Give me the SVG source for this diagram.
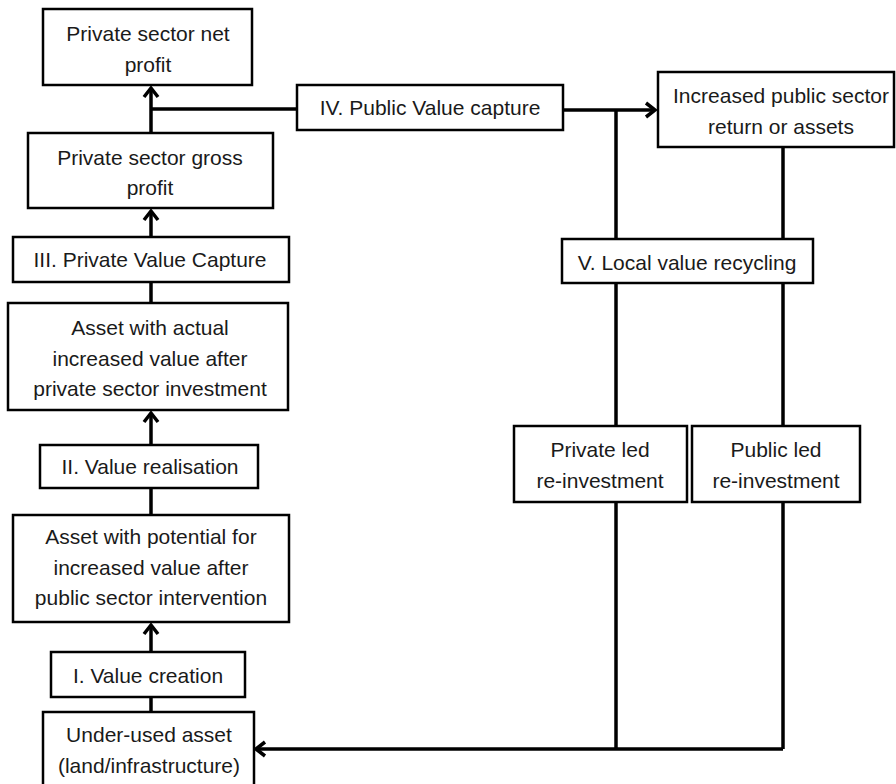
<svg xmlns="http://www.w3.org/2000/svg" width="896" height="784" viewBox="0 0 896 784">
<style>
.box{fill:#fff;stroke:#000;stroke-width:2.5}
.ln{fill:none;stroke:#000;stroke-width:3.5}
text{font-family:"Liberation Sans",Arial,sans-serif;font-size:21px;fill:#1a1a1a;text-anchor:middle}
</style>
<defs>
<marker id="arr" markerUnits="userSpaceOnUse" markerWidth="20" markerHeight="20" viewBox="-12 -10 14 20" refX="0" refY="0" orient="auto">
<path d="M-9,-7 L0,0 L-9,7" fill="none" stroke="#000" stroke-width="3.5"/>
</marker>
</defs>
<rect width="896" height="784" fill="#fff"/>
<g id="connectors">
<line class="ln" x1="151" y1="133" x2="151" y2="88" marker-end="url(#arr)"/>
<line class="ln" x1="151" y1="109" x2="297" y2="109"/>
<line class="ln" x1="563" y1="110" x2="655" y2="110" marker-end="url(#arr)"/>
<line class="ln" x1="151" y1="237" x2="151" y2="211" marker-end="url(#arr)"/>
<line class="ln" x1="151" y1="282" x2="151" y2="303"/>
<line class="ln" x1="151" y1="445" x2="151" y2="413" marker-end="url(#arr)"/>
<line class="ln" x1="151" y1="488" x2="151" y2="515"/>
<line class="ln" x1="151" y1="652" x2="151" y2="625" marker-end="url(#arr)"/>
<line class="ln" x1="151" y1="697" x2="151" y2="712"/>
<line class="ln" x1="616" y1="110" x2="616" y2="749"/>
<line class="ln" x1="783" y1="147" x2="783" y2="749"/>
<path class="ln" d="M783,749 L256,749" marker-end="url(#arr)"/>
</g>
<g id="net-profit">
<rect class="box" x="43" y="9" width="209" height="76"/>
<text x="148" y="41">Private sector net</text>
<text x="148" y="72">profit</text>
</g>
<g id="gross-profit">
<rect class="box" x="28" y="133" width="245" height="75"/>
<text x="150" y="165">Private sector gross</text>
<text x="150" y="195">profit</text>
</g>
<g id="private-value-capture">
<rect class="box" x="13" y="237" width="276" height="45"/>
<text x="150" y="267">III. Private Value Capture</text>
</g>
<g id="asset-actual">
<rect class="box" x="8" y="303" width="280" height="107"/>
<text x="150" y="335">Asset with actual</text>
<text x="150" y="366">increased value after</text>
<text x="150" y="396">private sector investment</text>
</g>
<g id="value-realisation">
<rect class="box" x="40" y="445" width="218" height="43"/>
<text x="150" y="474">II. Value realisation</text>
</g>
<g id="asset-potential">
<rect class="box" x="13" y="515" width="276" height="107"/>
<text x="151" y="544">Asset with potential for</text>
<text x="151" y="575">increased value after</text>
<text x="151" y="605">public sector intervention</text>
</g>
<g id="value-creation">
<rect class="box" x="51" y="652" width="194" height="45"/>
<text x="148" y="683">I. Value creation</text>
</g>
<g id="under-used-asset">
<rect class="box" x="43" y="712" width="211" height="76"/>
<text x="149" y="742">Under-used asset</text>
<text x="149" y="773">(land/infrastructure)</text>
</g>
<g id="public-value-capture">
<rect class="box" x="297" y="85" width="266" height="45"/>
<text x="430" y="115">IV. Public Value capture</text>
</g>
<g id="increased-public-return">
<rect class="box" x="658" y="72" width="236" height="75"/>
<text x="781" y="103">Increased public sector</text>
<text x="781" y="134">return or assets</text>
</g>
<g id="local-value-recycling">
<rect class="box" x="562" y="239" width="251" height="44"/>
<text x="687" y="270">V. Local value recycling</text>
</g>
<g id="private-led">
<rect class="box" x="514" y="426" width="173" height="76"/>
<text x="600" y="457">Private led</text>
<text x="600" y="488">re-investment</text>
</g>
<g id="public-led">
<rect class="box" x="692" y="426" width="168" height="76"/>
<text x="776" y="457">Public led</text>
<text x="776" y="488">re-investment</text>
</g>
</svg>
